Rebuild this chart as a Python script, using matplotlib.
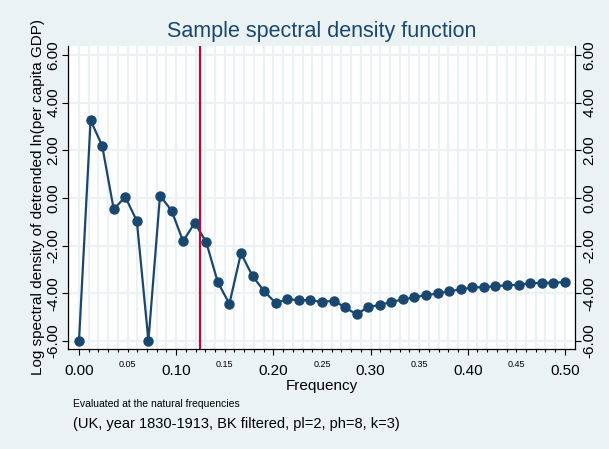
import matplotlib
matplotlib.use("Agg")
import matplotlib.pyplot as plt
import numpy as np
from matplotlib.ticker import FixedLocator, FuncFormatter

plt.rcParams['font.family'] = ['Liberation Sans', 'DejaVu Sans']

# natural frequencies j/84, j = 0..42
n_obs = 84
freq = np.arange(43) / n_obs
log_sdf = [-6.00, 3.26, 2.20, -0.48, 0.05, -0.97, -6.00, 0.10, -0.53, -1.82,
           -1.04, -1.86, -3.54, -4.44, -2.32, -3.28, -3.91, -4.41, -4.25, -4.29,
           -4.29, -4.37, -4.31, -4.59, -4.89, -4.57, -4.50, -4.36, -4.26, -4.17,
           -4.08, -4.01, -3.91, -3.84, -3.75, -3.75, -3.70, -3.67, -3.64, -3.58,
           -3.56, -3.56, -3.53]
cutoff = 1 / 8  # ph=8

major_x = [0.0, 0.1, 0.2, 0.3, 0.4, 0.5]
minor_x = [round(i * 0.01, 2) for i in range(51)]
half_x = [0.05, 0.15, 0.25, 0.35, 0.45]
y_ticks = [-6, -4, -2, 0, 2, 4, 6]

navy = '#1a476f'
bg = '#eaf2f3'

fig = plt.figure(figsize=(6.09, 4.49), dpi=100, facecolor=bg)
ax = fig.add_axes([0.1117, 0.2227, 0.8323, 0.6749])
ax.set_facecolor('white')

ax.plot(freq, log_sdf, color=navy, lw=1.6, marker='o', ms=6.5, zorder=3)
ax.axvline(cutoff, color='#c10534', lw=1.6, zorder=4)

ax.set_xlim(-0.0113, 0.5103)
ax.set_ylim(-6.34, 6.38)

ax.xaxis.set_major_locator(FixedLocator(major_x))
ax.xaxis.set_minor_locator(FixedLocator(minor_x))
ax.xaxis.set_major_formatter(FuncFormatter(lambda v, p: '%.2f' % v))
ax.xaxis.set_minor_formatter(FuncFormatter(
    lambda v, p: ('%.2f' % v) if any(abs(v - h) < 1e-6 for h in half_x) else ''))
ax.tick_params(axis='x', which='major', length=4, width=0.8, pad=6.5, labelsize=11)
ax.tick_params(axis='x', which='minor', length=2.5, width=0.8, pad=5.5, labelsize=6.5)

ax.set_yticks(y_ticks)
ax.yaxis.set_major_formatter(FuncFormatter(lambda v, p: '%.2f' % v))
ax.tick_params(axis='y', which='major', length=4, width=0.8, labelsize=11, pad=1.5,
               left=True, right=True, labelleft=True, labelright=True)
for lab in ax.get_yticklabels():
    lab.set_rotation(90)
    lab.set_va('center')

ax.grid(True, which='both', axis='x', color=bg, lw=1.5, zorder=0)
ax.grid(True, which='major', axis='y', color=bg, lw=1.5, zorder=0)
ax.set_axisbelow(True)

ax.spines['top'].set_visible(False)
for s in ['left', 'right', 'bottom']:
    ax.spines[s].set_linewidth(0.9)

ax.set_xlabel('Frequency', fontsize=11, labelpad=1)
ax.set_ylabel('Log spectral density of detrended ln(per capita GDP)', fontsize=11, labelpad=1)

# title centred over the plot region
fig.text(0.528, 0.929, 'Sample spectral density function', ha='center', va='center',
         fontsize=15.5, color=navy)
fig.text(0.12, 0.100, 'Evaluated at the natural frequencies', ha='left', va='center',
         fontsize=7.5)
fig.text(0.12, 0.056, '(UK, year 1830-1913, BK filtered, pl=2, ph=8, k=3)', ha='left',
         va='center', fontsize=10.5)

fig.savefig('out.png', dpi=100, facecolor=bg)
